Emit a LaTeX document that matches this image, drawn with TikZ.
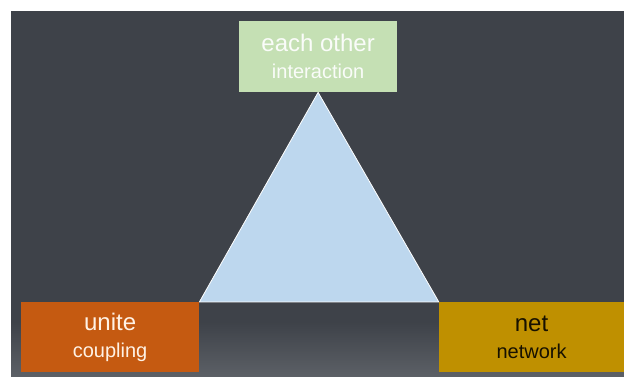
\documentclass[tikz,border=0pt]{standalone}
\usepackage{fontspec}
\setmainfont{Liberation Sans}
\definecolor{bgdark}{HTML}{3E4249}
\definecolor{bglight}{HTML}{5C6066}
\definecolor{boxgreen}{HTML}{C5E0B4}
\definecolor{boxorange}{HTML}{C55A11}
\definecolor{boxgold}{HTML}{BF9000}
\definecolor{triblue}{HTML}{BDD7EE}
\newcommand{\topword}[1]{{\fontsize{24}{27}\selectfont #1}}

\begin{document}
\begin{tikzpicture}[every node/.style={rectangle, inner sep=0pt, align=center, font=\fontsize{20}{27}\selectfont}]
  \useasboundingbox (0,0) rectangle (21.93,13.22);
  \fill[bgdark] (0.39,0) rectangle (21.93,12.83);
  \shade[top color=bgdark, bottom color=bglight] (0.39,0) rectangle (21.93,1.90);
  \node[fill=boxgreen, text=white!92!boxgreen, minimum width=5.55cm, minimum height=2.50cm] (interaction) at (11.18, 11.23) {\topword{each other}\\interaction};
  \node[fill=boxorange, text=white!90!orange, minimum width=6.26cm, minimum height=2.46cm] (coupling) at (3.87, 1.37) {\topword{unite}\\coupling};
  \node[fill=boxgold, text=black!88!boxgold, minimum width=6.50cm, minimum height=2.46cm] (network) at (18.68, 1.37) {\topword{net}\\network};
  \draw[white, fill=triblue, line width=0.8pt, line join=round] (interaction.south) -- (coupling.north east) -- (network.north west) -- cycle;
\end{tikzpicture}
\end{document}
